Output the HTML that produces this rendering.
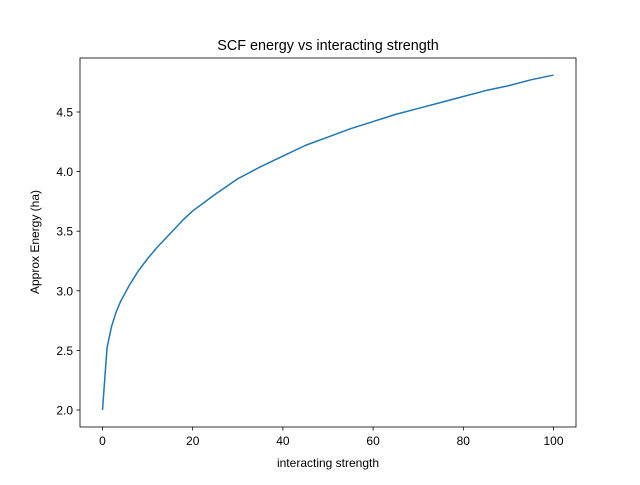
<!DOCTYPE html>
<html><head><meta charset="utf-8"><style>
body{margin:0;background:#fff;}
svg{font-family:"Liberation Sans","DejaVu Sans",sans-serif;}
</style></head><body>
<svg id="chart" width="640" height="480">
<rect width="640" height="480" fill="#fff"/>
<text x="328" y="50" text-anchor="middle" font-size="14.4">SCF energy vs interacting strength</text>
<g id="xt"></g>
<g id="yt"></g>
<path id="line" fill="none" stroke="#1f77b4" stroke-width="1.5" stroke-linejoin="round"/>
<rect x="80" y="58" width="496" height="369" fill="none" stroke="#000" stroke-width="0.8"/>
<text x="328" y="467" text-anchor="middle" font-size="12">interacting strength</text>
<text transform="translate(39,242) rotate(-90)" text-anchor="middle" font-size="12">Approx Energy (ha)</text>
</svg>
<script>
const xs=[0,1,2,3,4,5,6,7,8,10,12,15,18,20,25,30,35,40,45,50,55,60,65,70,75,80,85,90,95,100];
const ys=[2.0,2.52,2.70,2.82,2.91,2.98,3.05,3.11,3.17,3.27,3.36,3.48,3.60,3.67,3.81,3.94,4.04,4.13,4.22,4.29,4.36,4.42,4.48,4.53,4.58,4.63,4.68,4.72,4.77,4.81];
const xTicks=[0,20,40,60,80,100];
const yTicks=[2.0,2.5,3.0,3.5,4.0,4.5];
const X=v=>102.5+v*4.51, Y=v=>410-(v-2)*119.2;
const ns="http://www.w3.org/2000/svg";
const xt=document.getElementById('xt'), yt=document.getElementById('yt');
xTicks.forEach(t=>{
 const l=document.createElementNS(ns,'line');
 
 
 l.setAttribute('x1',X(t));l.setAttribute('x2',X(t));l.setAttribute('y1',427);l.setAttribute('y2',430.5);l.setAttribute('stroke','#000');l.setAttribute('stroke-width','0.8');xt.appendChild(l);
 const tx=document.createElementNS(ns,'text');
 
 
 tx.setAttribute('x',X(t));tx.setAttribute('y',445);tx.setAttribute('text-anchor','middle');tx.setAttribute('font-size','12');tx.textContent=t;xt.appendChild(tx);
});
yTicks.forEach(t=>{
 const l=document.createElementNS(ns,'line');
 
 
 l.setAttribute('x1',76.5);l.setAttribute('x2',80);l.setAttribute('y1',Y(t));l.setAttribute('y2',Y(t));l.setAttribute('stroke','#000');l.setAttribute('stroke-width','0.8');yt.appendChild(l);
 const tx=document.createElementNS(ns,'text');
 
 
 tx.setAttribute('x',73);tx.setAttribute('y',Y(t)+4.5);tx.setAttribute('text-anchor','end');tx.setAttribute('font-size','12');tx.textContent=t.toFixed(1);yt.appendChild(tx);
});
document.getElementById('line').setAttribute('d',xs.map((x,i)=>(i?'L':'M')+X(x)+','+Y(ys[i])).join(''));
</script>
</body></html>
